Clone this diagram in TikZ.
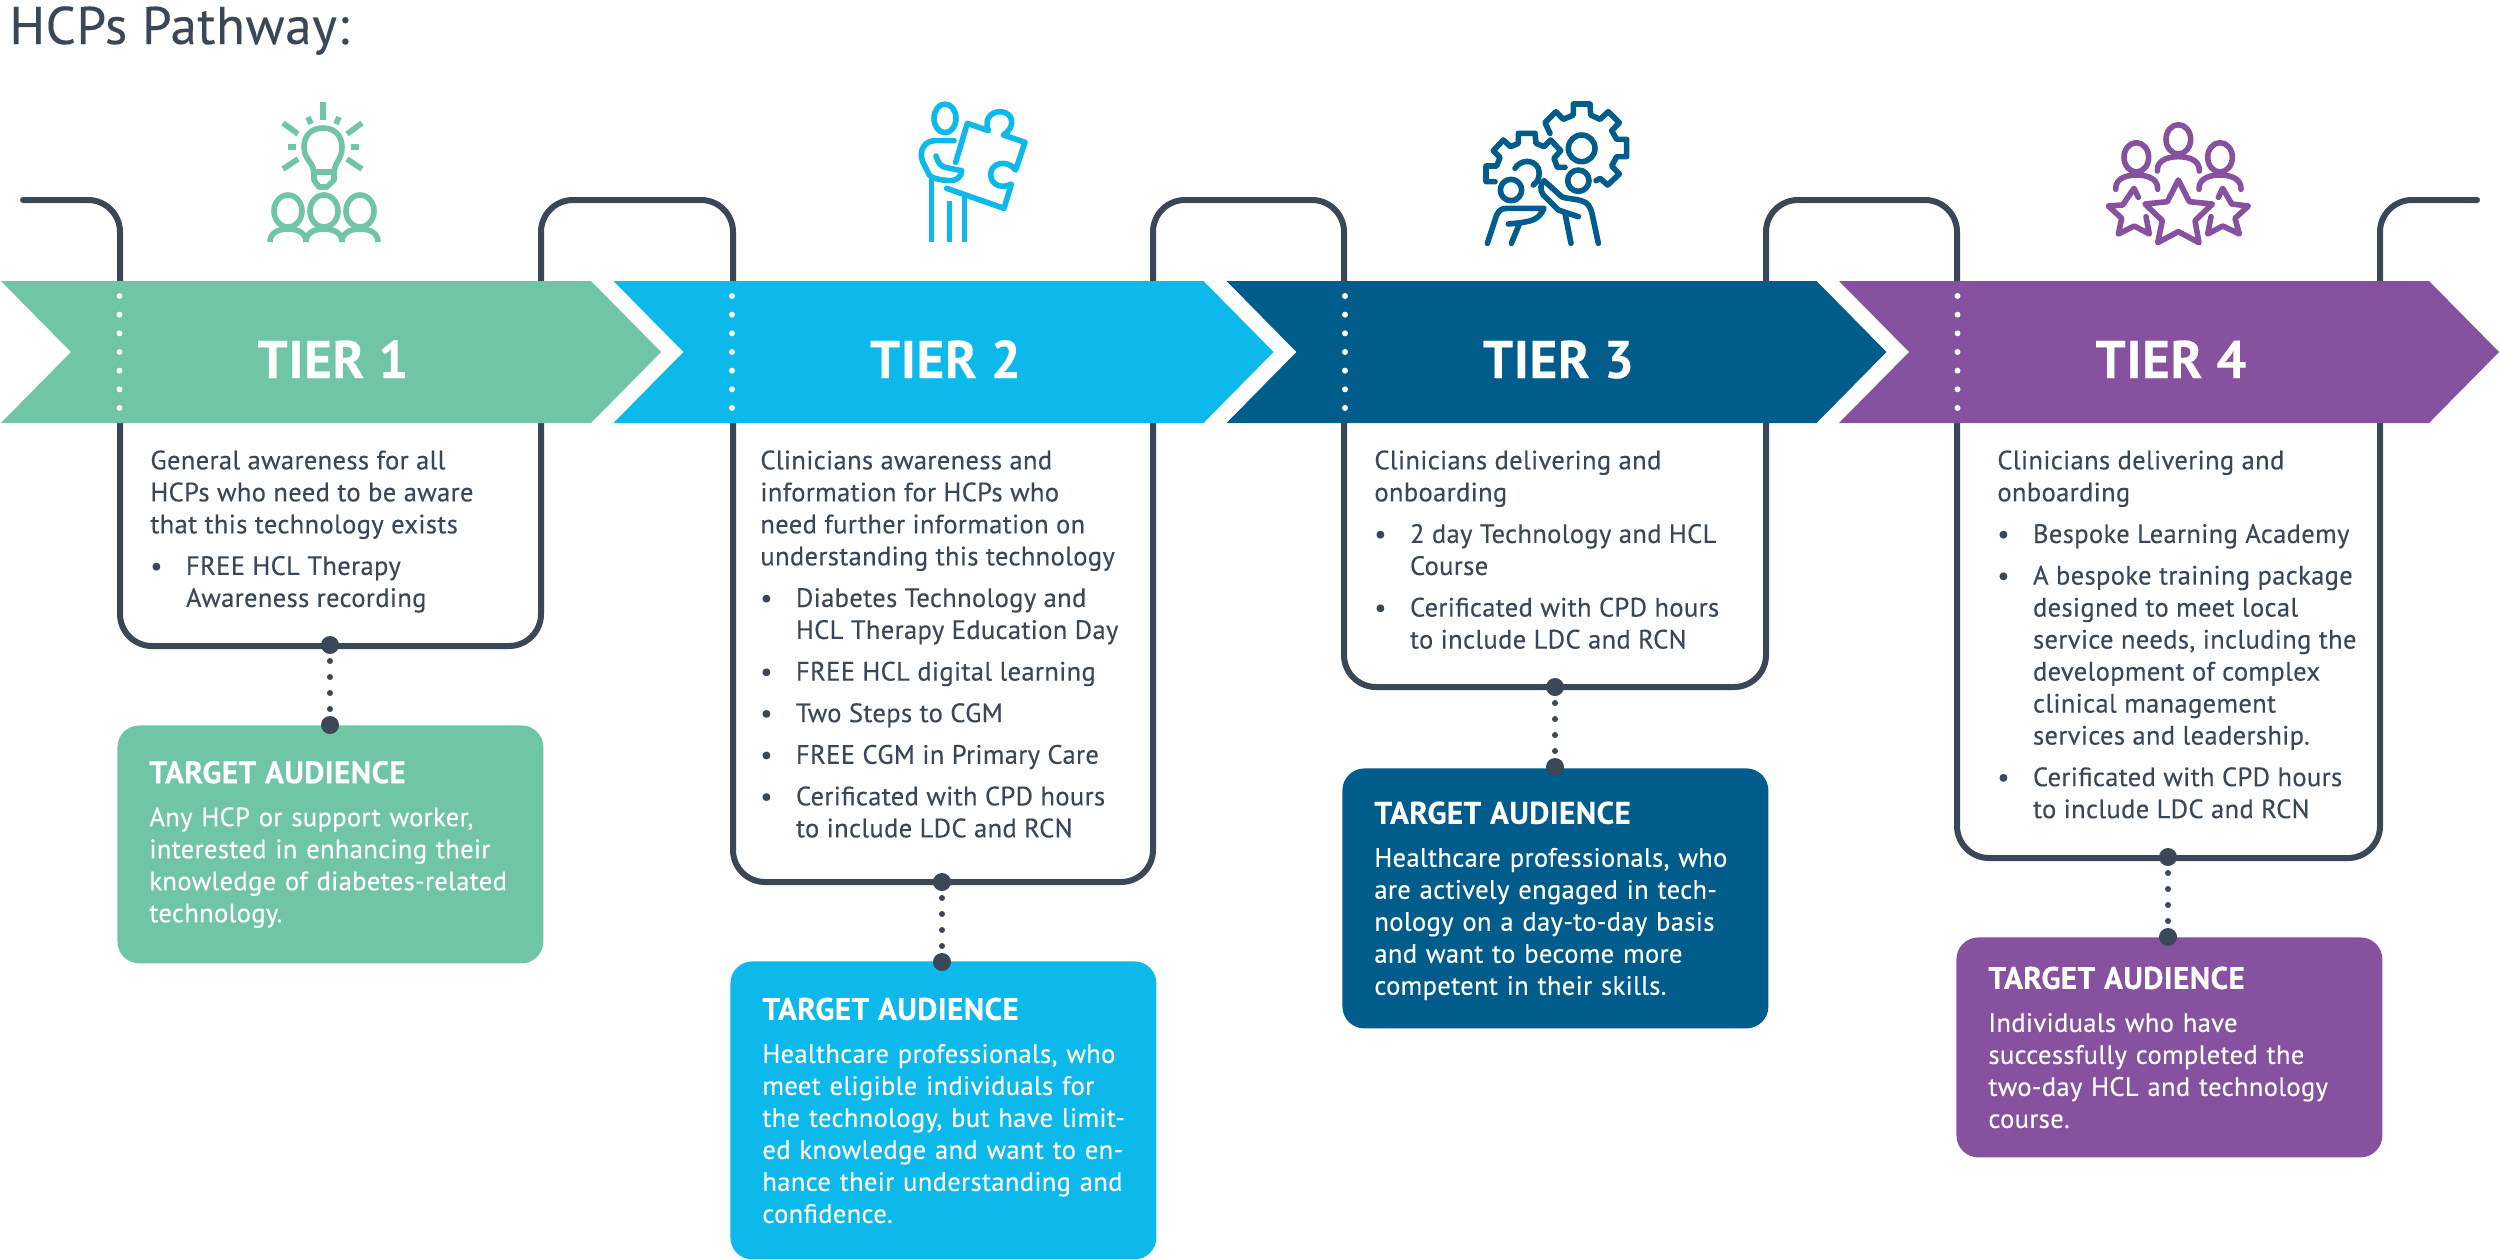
\documentclass[tikz,border=0pt]{standalone}
\usepackage{xcolor}
\usepackage{fontspec}
\setmainfont[FakeBold=0.25,LetterSpace=1.2]{PT Sans}
\usetikzlibrary{arrows.meta,calc,positioning}
\definecolor{pathdark}{RGB}{58,71,87}
\definecolor{tiergreen}{RGB}{112,197,167}
\definecolor{tierblue}{RGB}{13,184,235}
\definecolor{tiernavy}{RGB}{0,92,138}
\definecolor{tierpurple}{RGB}{134,82,160}
\newcommand{\bl}{\makebox[17.8pt][l]{\textbullet}}
\newcommand{\ind}{\hspace*{17.8pt}}
\tikzset{
  pathway/.style={line width=3pt, draw=pathdark, rounded corners=16pt, line cap=round},
  bodytext/.style={
    anchor=north west,
    align=left,
    inner sep=0pt,
    text=pathdark,
    font=\fontsize{13.3}{16}\selectfont
  },
  audience/.style={
    anchor=north west,
    rounded corners=11pt,
    align=left,
    text=white,
    text width=181pt,
    inner xsep=16pt,
    inner ysep=0pt,
    font=\fontsize{13.3}{16}\selectfont
  },
  tierlabel/.style={anchor=base, text=white, font=\fontsize{26.5}{30}\selectfont\bfseries},
  bigdot/.style={circle, fill=pathdark, minimum size=9pt, inner sep=0pt},
  dotlink/.style={line width=3pt, draw=pathdark, line cap=round, dash pattern=on 0pt off 8pt},
  whitedots/.style={line width=3pt, draw=white, line cap=round, dash pattern=on 0pt off 9.33pt},
  iconline/.style={line width=2.8pt, line cap=round, line join=round},
  iconbutt/.style={line width=2.8pt, line cap=butt, line join=round}
}
\newcommand{\tgt}{\fontsize{15.6}{16}\selectfont\bfseries TARGET AUDIENCE}

\begin{document}
\begin{tikzpicture}[x=0.5pt,y=-0.5pt]
  \useasboundingbox (0,0) rectangle (2500,1259);

  \node[anchor=base west,inner sep=0pt,text=pathdark,font=\fontsize{26.5}{30}\selectfont] (title) at (9,44) {HCPs Pathway:};

  % the line that runs through all four tiers
  \draw[pathway] (23,200) -- (120,200) -- (120,646) -- (541,646) -- (541,200) -- (733,200)
    -- (733,882) -- (1153,882) -- (1153,200) -- (1344,200)
    -- (1344,687) -- (1766,687) -- (1766,200) -- (1957,200)
    -- (1957,858) -- (2380,858) -- (2380,200) -- (2477,200);

  \foreach \n/\x/\c in {1/0/tiergreen,2/612.5/tierblue,3/1225.5/tiernavy,4/1838/tierpurple} {
    \fill[\c] (\x+1,281) -- ++(590,0) -- ++(70,71) -- ++(-70,71) -- ++(-590,0) -- ++(70,-71) -- cycle;
    \draw[whitedots] (\x+119.5,296) -- (\x+119.5,409);
    \node[tierlabel] (tier\n) at (\x+333,378) {TIER \n};
  }

  % text under the arrows
  \node[bodytext] (body1) at (150,450) {General awareness for all\\
    HCPs who need to be aware\\
    that this technology exists\\[4.8pt]
    \bl FREE HCL Therapy\\
    \ind Awareness recording};
  \node[bodytext] (body2) at (760,450) {Clinicians awareness and\\
    information for HCPs who\\
    need further information on\\
    understanding this technology\\[4.8pt]
    \bl Diabetes Technology and\\
    \ind HCL Therapy Education Day\\[4.8pt]
    \bl FREE HCL digital learning\\[4.8pt]
    \bl Two Steps to CGM\\[4.8pt]
    \bl FREE CGM in Primary Care\\[4.8pt]
    \bl Cerificated with CPD hours\\
    \ind to include LDC and RCN};
  \node[bodytext] (body3) at (1374,450) {Clinicians delivering and\\
    onboarding\\[4.8pt]
    \bl 2 day Technology and HCL\\
    \ind Course\\[4.8pt]
    \bl Cerificated with CPD hours\\
    \ind to include LDC and RCN};
  \node[bodytext] (body4) at (1997,450) {Clinicians delivering and\\
    onboarding\\[4.8pt]
    \bl Bespoke Learning Academy\\[4.8pt]
    \bl A bespoke training package\\
    \ind designed to meet local\\
    \ind service needs, including the\\
    \ind development of complex\\
    \ind clinical management\\
    \ind services and leadership.\\[4.8pt]
    \bl Cerificated with CPD hours\\
    \ind to include LDC and RCN};

  % target audience boxes
  \node[audience,fill=tiergreen,minimum height=119pt] (target1) at (117,725) {{\tgt}\\[5.5pt]
    Any HCP or support worker,\\
    interested in enhancing their\\
    knowledge of diabetes-related\\
    technology.};
  \node[audience,fill=tierblue,minimum height=149pt] (target2) at (730,961) {{\tgt}\\[5.5pt]
    Healthcare professionals, who\\
    meet eligible individuals for\\
    \mbox{the technology, but have limit-}\\
    \mbox{ed knowledge and want to en-}\\
    \mbox{hance their understanding and}\\
    confidence.};
  \node[audience,fill=tiernavy,minimum height=130pt] (target3) at (1342,768) {\rule{0pt}{13.5pt}{\tgt}\\[5.5pt]
    Healthcare professionals, who\\
    are actively engaged in tech-\\
    nology on a day-to-day basis\\
    and want to become more\\
    competent in their skills.};
  \node[audience,fill=tierpurple,minimum height=110pt] (target4) at (1956,937) {{\tgt}\\[5.5pt]
    Individuals who have\\
    successfully completed the\\
    two-day HCL and technology\\
    course.};

  \foreach \n/\x/\a/\b in {1/330/645/725,2/942/882/962,3/1555/687/767,4/2168/857/937} {
    \node[bigdot] (up\n) at (\x,\a) {};
    \node[bigdot] (down\n) at (\x,\b) {};
    \draw[dotlink] (up\n.center) -- (down\n.center);
  }

  % icon tier 1
  \draw[iconbutt,draw=tiergreen] (314,174) .. controls (314,162) and (304,160) .. (304,147)
    .. controls (304,135) and (312,128) .. (323,128) .. controls (334,128) and (342,135) .. (342,147)
    .. controls (342,160) and (334,162) .. (334,174) -- (334,180) -- (327,187) -- (319,187) -- (314,180) -- cycle
    (314,172) -- (334,172);
  \foreach \a/\b/\c/\d in {323/102/323/120,308/117/311/124,339/117/336/124,283/123/298/134,362/123/347/134,
    288/147/296/147,351/147/359/147,283/169/298/159,362/169/347/159}
    \draw[iconbutt,draw=tiergreen] (\a,\b) -- (\c,\d);
  \foreach \x in {288,324,360} {
    \draw[iconbutt,draw=tiergreen] (\x,211) ellipse [x radius=14,y radius=16];
    \draw[iconbutt,draw=tiergreen] (\x-18,242) .. controls (\x-18,233) and (\x-10,229) .. (\x,229)
      .. controls (\x+10,229) and (\x+18,233) .. (\x+18,242);
  }

  % icon tier 2
  \begin{scope}[shift={(850,80)},scale=1/3]
    \draw[iconline,draw=tierblue] (285,115) ellipse [x radius=33,y radius=43];
    \draw[iconline,draw=tierblue] (312,182) -- (255,182) .. controls (225,182) and (205,210) .. (218,245)
      -- (238,285) .. controls (245,295) and (270,300) .. (300,302) .. controls (320,302) and (335,290) .. (335,272)
      -- (285,262) .. controls (272,258) and (265,250) .. (258,228);
    \draw[iconline,draw=tierblue] (317,247) -- (352,130) -- (415,152) .. controls (400,110) and (430,95) .. (450,95)
      .. controls (495,97) and (495,145) .. (460,165) -- (525,187) -- (497,270)
      .. controls (470,235) and (420,250) .. (422,285) .. controls (425,320) and (460,325) .. (484,312)
      -- (462,385) -- (290,325);
    \draw[iconbutt,draw=tierblue] (245,295) -- (245,485) (298,362) -- (298,485) (343,345) -- (343,485);
  \end{scope}

  % icon tier 3
  \begin{scope}[shift={(1440,80)},scale=1/3]
    \draw[iconline,draw=tiernavy] (330,160) -- (315,128) -- (348,95) -- (370,118) -- (400,105) -- (400,72) -- (450,72)
      -- (452,105) -- (480,118) -- (505,95) -- (538,128) -- (515,152) -- (530,178) -- (560,178) -- (560,230) -- (530,230)
      -- (515,258) -- (538,282) -- (503,315) -- (480,295) -- (468,302);
    \draw[iconline,draw=tiernavy] (425,205) circle [radius=40];
    \draw[iconline,draw=tiernavy] (165,305) -- (138,305) -- (138,258) -- (170,258) -- (180,232) -- (160,212) -- (190,180)
      -- (212,200) -- (235,190) -- (235,160) -- (285,160) -- (288,190) -- (312,200) -- (332,180) -- (362,212) -- (342,235)
      -- (352,262) -- (375,262);
    \draw[iconline,draw=tiernavy] (225,265) .. controls (240,240) and (280,235) .. (295,265) .. controls (302,285) and (295,305) .. (280,315);
    \draw[iconline,draw=tiernavy] (213,330) circle [radius=32] (415,302) circle [radius=32];
    \draw[iconline,draw=tiernavy] (142,490) -- (165,420) .. controls (172,395) and (180,385) .. (200,385) -- (312,385)
      .. controls (295,420) and (280,425) .. (205,432) (238,432) -- (214,490);
    \draw[iconline,draw=tiernavy] (393,490) -- (375,400) (415,410) -- (355,390) -- (310,345) .. controls (298,330) and (302,310) .. (312,302)
      -- (365,350) .. controls (380,358) and (420,355) .. (440,370) .. controls (452,380) and (455,395) .. (458,410) -- (475,490);
  \end{scope}

  % icon tier 4
  \begin{scope}[shift={(2050,90)},scale=1/3]
    \foreach \x/\y in {385/148,259/202,510/202}
      \draw[iconline,draw=tierpurple] (\x,\y) ellipse [x radius=37,y radius=44];
    \foreach \x/\y in {385/200,260/255,510/255}
      \draw[iconline,draw=tierpurple] (\x-63,\y+43) .. controls (\x-65,\y+5) and (\x-20,\y) .. (\x,\y)
        .. controls (\x+20,\y) and (\x+65,\y+5) .. (\x+63,\y+43);
    \draw[iconline,draw=tierpurple] (385,270) -- (418,335) -- (487,342) -- (435,392) -- (447,458) -- (385,425)
      -- (323,458) -- (337,392) -- (285,342) -- (352,335) -- cycle;
    \draw[iconline,draw=tierpurple] (265,322) -- (252,295) -- (218,345) -- (175,348) -- (215,385) -- (205,432) -- (253,408)
      -- (298,432) -- (288,380);
    \draw[iconline,draw=tierpurple] (483,380) -- (473,432) -- (518,408) -- (568,432) -- (555,385) -- (595,348) -- (545,342)
      -- (518,295) -- (505,322);
  \end{scope}
\end{tikzpicture}
\end{document}
